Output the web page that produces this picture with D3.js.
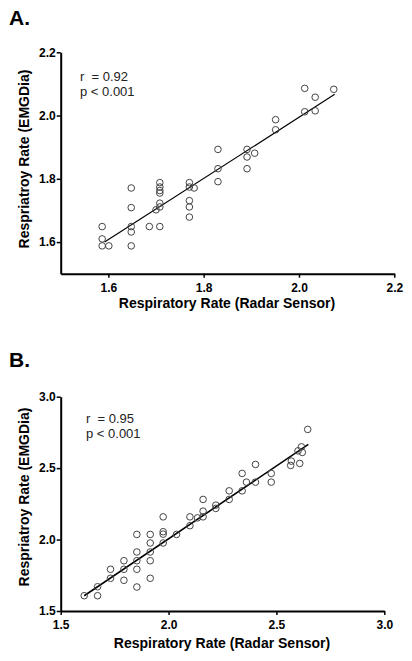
<!DOCTYPE html>
<html><head><meta charset="utf-8">
<script src="https://cdn.jsdelivr.net/npm/d3@7"></script>
<style>body{margin:0;background:#fff}svg{display:block}</style>
</head><body>
<script>
// Panel A data
const xA = [1.587,1.587,1.587,1.601,1.648,1.648,1.648,1.648,1.648,1.686,1.700,1.708,1.708,1.708,1.708,1.708,1.708,1.708,1.770,1.770,1.780,1.770,1.770,1.770,1.830,1.830,1.830,1.891,1.891,1.891,1.907,1.951,1.951,2.012,2.012,2.034,2.034,2.073];
const yA = [1.649,1.610,1.588,1.588,1.771,1.709,1.649,1.632,1.588,1.649,1.702,1.788,1.774,1.763,1.755,1.723,1.711,1.649,1.788,1.774,1.771,1.731,1.711,1.679,1.893,1.832,1.791,1.893,1.869,1.832,1.881,1.987,1.955,2.086,2.012,2.058,2.015,2.083];
const fitA = [[1.592,1.600],[2.075,2.067]];
const ticksA = [1.6,1.8,2.0,2.2];
// Panel B data
const xB = [1.609,1.671,1.671,1.731,1.731,1.793,1.793,1.793,1.853,1.853,1.853,1.853,1.853,1.915,1.915,1.915,1.915,1.915,1.975,1.975,1.975,1.975,2.037,2.099,2.099,2.134,2.160,2.160,2.160,2.219,2.219,2.281,2.281,2.341,2.341,2.361,2.403,2.403,2.476,2.476,2.569,2.566,2.608,2.600,2.616,2.620,2.645];
const yB = [1.607,1.670,1.607,1.792,1.729,1.852,1.792,1.715,2.036,1.913,1.852,1.792,1.668,2.036,1.976,1.913,1.852,1.729,2.159,2.055,2.038,1.976,2.036,2.159,2.097,2.152,2.281,2.199,2.159,2.241,2.218,2.341,2.281,2.463,2.341,2.402,2.526,2.402,2.463,2.402,2.549,2.519,2.533,2.621,2.649,2.610,2.771];
const fitB = [[1.609,1.607],[2.648,2.666]];
const ticksB = [1.5,2.0,2.5,3.0];

const W = 412, H = 661;
const svg = d3.select("body").append("svg").attr("width", W).attr("height", H);
const FONT = "'Liberation Sans', Arial, sans-serif";

function panel(o) {
  const g = svg.append("g");
  const x = d3.scaleLinear().domain(o.domain).range([o.left, o.right]);
  const y = d3.scaleLinear().domain(o.domain).range([o.bottom, o.top]);
  g.append("text").attr("x", 9).attr("y", o.titleY).text(o.title)
    .attr("font-family", FONT).attr("font-weight", "bold").attr("font-size", 21);
  const fmt = d3.format(".1f");
  const xa = g.append("g").attr("transform", `translate(0,${o.bottom})`)
    .call(d3.axisBottom(x).tickValues(o.ticks).tickFormat(fmt).tickSize(4).tickSizeOuter(0));
  const ya = g.append("g").attr("transform", `translate(${o.left},0)`)
    .call(d3.axisLeft(y).tickValues(o.ticks).tickFormat(fmt).tickSize(4).tickSizeOuter(0));
  [xa, ya].forEach(a => {
    a.select(".domain").attr("stroke", "#000").attr("stroke-width", 2);
    a.selectAll(".tick line").attr("stroke", "#000").attr("stroke-width", 1.5);
    a.selectAll("text").attr("font-family", FONT).attr("font-weight", "bold")
      .attr("font-size", 12).attr("fill", "#000");
  });
  xa.selectAll("text").attr("dy", "0.95em");
  ya.selectAll("text").attr("x", -5);
  // regression line
  g.append("line")
    .attr("x1", x(o.fit[0][0])).attr("y1", y(o.fit[0][1]))
    .attr("x2", x(o.fit[1][0])).attr("y2", y(o.fit[1][1]))
    .attr("stroke", "#000").attr("stroke-width", o.lw);
  g.selectAll("circle.pt").data(o.xs.map((v, i) => [v, o.ys[i]])).join("circle")
    .attr("class", "pt").attr("cx", d => x(d[0])).attr("cy", d => y(d[1])).attr("r", 3.3)
    .attr("fill", "none").attr("stroke", "#444").attr("stroke-width", 1);
  g.append("text").attr("x", o.annX).attr("y", o.annY).text("r  = " + o.r)
    .attr("font-family", FONT).attr("font-size", 13).attr("fill", "#222").attr("xml:space","preserve").style("white-space","pre");
  g.append("text").attr("x", o.annX).attr("y", o.annY + 15).text("p < 0.001")
    .attr("font-family", FONT).attr("font-size", 13).attr("fill", "#222");
  g.append("text").attr("x", o.xlabX).attr("y", o.xlabY).attr("text-anchor", "middle")
    .text("Respiratory Rate (Radar Sensor)")
    .attr("font-family", FONT).attr("font-weight", "bold").attr("font-size", 14);
  g.append("text").attr("transform", `translate(29,${o.ylabY}) rotate(-90)`).attr("text-anchor", "middle")
    .text("Respriatroy Rate (EMGDia)")
    .attr("font-family", FONT).attr("font-weight", "bold").attr("font-size", 14);
}

panel({title: "A.", titleY: 25, domain: [1.5, 2.2], left: 60.7, right: 394.3, top: 52.3, bottom: 273.7,
  ticks: ticksA, xs: xA, ys: yA, fit: fitA, lw: 1.2, r: "0.92", annX: 80, annY: 81,
  xlabX: 227, xlabY: 308, ylabY: 159});
panel({title: "B.", titleY: 366.7, domain: [1.5, 3.0], left: 60.7, right: 384.3, top: 396.7, bottom: 611,
  ticks: ticksB, xs: xB, ys: yB, fit: fitB, lw: 1.6, r: "0.95", annX: 86, annY: 422.7,
  xlabX: 222, xlabY: 648, ylabY: 497});
</script>
</body></html>
